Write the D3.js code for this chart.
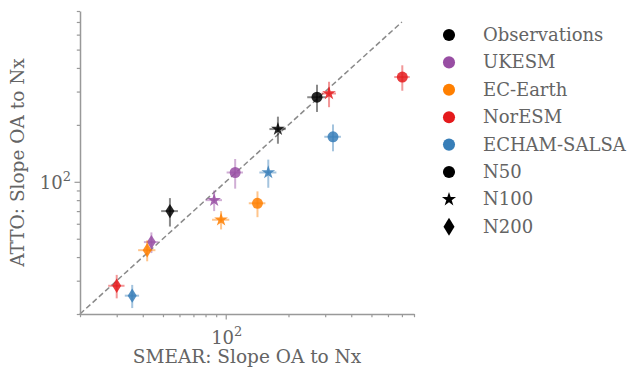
<!DOCTYPE html>
<html><head><meta charset="utf-8">
<script src="https://cdn.jsdelivr.net/npm/d3@7"></script>
<style>body{margin:0;background:#fff}svg text{font-family:"DejaVu Serif",serif;fill:#646464}</style>
</head><body><svg id="c" width="631" height="369"></svg>
<script>
const models = ["Observations","UKESM","EC-Earth","NorESM","ECHAM-SALSA"];
const modelColors = ["#000000","#984ea3","#ff7f00","#e41a1c","#377eb8"];
const sizes = ["N50","N100","N200"];
// values per model, per size [N50, N100, N200]
const smearX = [[274,178,54],[111,88,44],[142,95,42],[703,313,30],[327,160,35.6]];
const attoY  = [[280,190,70],[112,80,48],[77,63,43.5],[358,293,28.2],[173,112,25]];
const smearErr = [[28,16,5],[10,8,3.5],[13,9,4],[60,25,2.7],[30,15,2.8]];
const attoErr  = [[46,31,12],[20,10,6],[12,7,5.5],[55,45,4],[28,19,3.5]];
const axisDomain = [20,800];
const oneToOne = [20,700];
const tickLabel = "10", tickExp = "2", tickValue = 100;

const svg = d3.select("#c");
const x = d3.scaleLog().domain(axisDomain).range([80,414]);
const y = d3.scaleLog().domain(axisDomain).range([314,11]);
const grey = "#999";

// 1:1 line
svg.append("line").attr("x1",x(oneToOne[0])).attr("y1",y(oneToOne[0]))
  .attr("x2",x(oneToOne[1])).attr("y2",y(oneToOne[1]))
  .attr("stroke","#8a8a8a").attr("stroke-width",1.5).attr("stroke-dasharray","5.5,3");

function diamondPath(h,w){return `M0,${-h}L${w},0L0,${h}L${-w},0Z`;}
const starPath = d3.symbol().type(d3.symbolStar).size(58)();
const circlePath = d3.symbol().type(d3.symbolCircle).size(95)();
const shapePaths = [circlePath, starPath, diamondPath(7.2,4.5)];

models.forEach((m,i)=>{
  sizes.forEach((s,j)=>{
    const vx = smearX[i][j], vy = attoY[i][j], ex = smearErr[i][j], ey = attoErr[i][j];
    const g = svg.append("g");
    g.append("line").attr("x1",x(vx-ex)).attr("x2",x(vx+ex)).attr("y1",y(vy)).attr("y2",y(vy))
      .attr("stroke",modelColors[i]).attr("stroke-width",2).attr("opacity",0.45);
    g.append("line").attr("x1",x(vx)).attr("x2",x(vx)).attr("y1",y(vy-ey)).attr("y2",y(vy+ey))
      .attr("stroke",modelColors[i]).attr("stroke-width",2).attr("opacity",0.45);
    g.append("path").attr("d",shapePaths[j]).attr("transform",`translate(${x(vx)},${y(vy)})`)
      .attr("fill",modelColors[i]).attr("opacity",0.85);
  });
});

// axes
const xAxis = d3.axisBottom(x).tickValues(d3.range(20,100,10).concat(d3.range(100,900,100))).tickFormat("").tickSizeOuter(0);
const gx = svg.append("g").attr("transform","translate(0,314)").call(xAxis);
gx.selectAll(".tick line").attr("y2",d=>d===tickValue?5.5:3.2);
const yAxis = d3.axisLeft(y).tickValues(d3.range(20,100,10).concat(d3.range(100,900,100))).tickFormat("").tickSizeOuter(0);
const gy = svg.append("g").attr("transform","translate(80,0)").call(yAxis);
gy.selectAll(".tick line").attr("x2",d=>d===tickValue?-5.5:-3.2);
[gx,gy].forEach(g=>{g.select(".domain").attr("stroke",grey).attr("stroke-width",1.5);
  g.selectAll(".tick line").attr("stroke",grey).attr("stroke-width",1.2);});

function sup(px, py, anchor){
  const tt = svg.append("text").attr("x",px).attr("y",py).attr("text-anchor",anchor).attr("font-size",18);
  tt.append("tspan").text(tickLabel);
  tt.append("tspan").attr("dy",-8).attr("font-size",13).text(tickExp);
}
sup(x(tickValue)+1, 344, "middle");
sup(71, y(tickValue)+7, "end");

svg.append("text").attr("x",247).attr("y",363).attr("text-anchor","middle").attr("font-size",18.5).text("SMEAR: Slope OA to Nx");
svg.append("text").attr("transform","translate(24,162.5) rotate(-90)").attr("text-anchor","middle").attr("font-size",18.5).text("ATTO: Slope OA to Nx");

// legend
const legendItems = models.map((m,i)=>({label:m,color:modelColors[i],path:d3.symbol().type(d3.symbolCircle).size(115)()}))
  .concat(sizes.map((s,j)=>({label:s,color:"#000",path:[d3.symbol().type(d3.symbolCircle).size(115)(),d3.symbol().type(d3.symbolStar).size(62)(),diamondPath(9,5.5)][j]})));
legendItems.forEach((d,k)=>{
  const yy = 35 + k*27.4;
  svg.append("path").attr("d",d.path).attr("transform",`translate(449,${yy})`).attr("fill",d.color);
  svg.append("text").attr("x",483).attr("y",yy+6).attr("font-size",18).text(d.label);
});
</script></body></html>
